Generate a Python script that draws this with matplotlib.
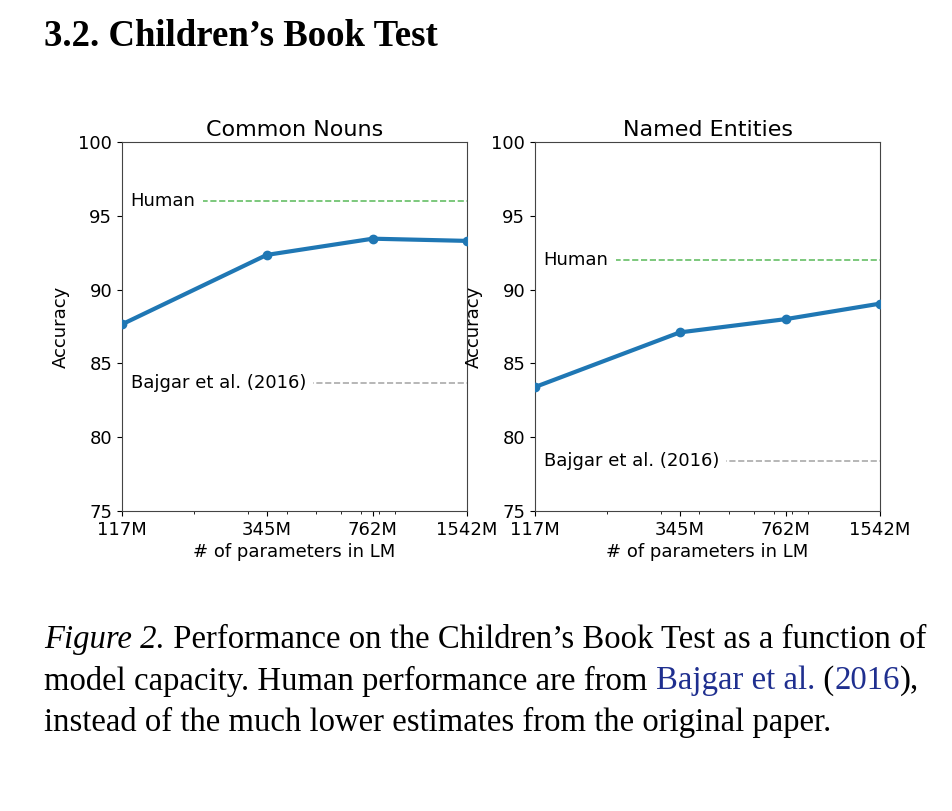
import matplotlib
matplotlib.use('Agg')
import matplotlib.pyplot as plt
from matplotlib.ticker import NullFormatter

# model sizes (millions of parameters)
params = [117, 345, 762, 1542]
param_labels = ['117M', '345M', '762M', '1542M']

# accuracy per model size
cn_acc = [87.65, 92.35, 93.45, 93.3]
ne_acc = [83.4, 87.1, 88.0, 89.05]

# reference lines
cn_human, cn_bajgar = 96.0, 83.7
ne_human, ne_bajgar = 92.0, 78.4

titles = ['Common Nouns', 'Named Entities']

plt.rcParams['font.family'] = 'DejaVu Sans'
plt.rcParams['font.size'] = 13

fig = plt.figure(figsize=(9.52, 8.11), dpi=100)
ax1 = fig.add_axes([0.1282, 0.3699, 0.3624, 0.455])
ax2 = fig.add_axes([0.5620, 0.3699, 0.3624, 0.455])

panels = [(ax1, cn_acc, cn_human, cn_bajgar, titles[0]),
          (ax2, ne_acc, ne_human, ne_bajgar, titles[1])]

for ax, acc, human, bajgar, title in panels:
    ax.plot(params, acc, '-o', color='#1f77b4', lw=3, ms=6, zorder=3)
    ax.axhline(human, ls='--', color='#66bf66', lw=1.2, zorder=1)
    ax.axhline(bajgar, ls='--', color='#aaaaaa', lw=1.2, zorder=1)
    box = dict(boxstyle='square,pad=0.4', fc='white', ec='none')
    ax.text(0.025, human, 'Human', transform=ax.get_yaxis_transform(),
            va='center', ha='left', fontsize=13, bbox=box, zorder=2)
    ax.text(0.025, bajgar, 'Bajgar et al. (2016)', transform=ax.get_yaxis_transform(),
            va='center', ha='left', fontsize=13, bbox=box, zorder=2)
    ax.set_xscale('log')
    ax.set_xlim(params[0], params[-1])
    ax.set_xticks(params)
    ax.set_xticklabels(param_labels)
    ax.xaxis.set_minor_formatter(NullFormatter())
    ax.set_ylim(75, 100)
    ax.set_yticks(range(75, 101, 5))
    ax.set_title(title, fontsize=16, pad=4)
    ax.set_xlabel('# of parameters in LM', fontsize=13, labelpad=3)
    ax.set_ylabel('Accuracy', fontsize=13, labelpad=6)
    for sp in ax.spines.values():
        sp.set_color('#444444')

serif = 'Liberation Serif'
fig.text(44 / 952, 1 - 37 / 811, '3.2. Children\u2019s Book Test', family=serif,
         weight='bold', fontsize=26.5, va='center', ha='left')

# caption, drawn piece by piece so that parts can be coloured
link = '#1f2f8f'
caption = [
    [('Figure 2.', 'black', 'italic'),
     (' Performance on the Children\u2019s Book Test as a function of', 'black', 'normal')],
    [('model capacity. Human performance are from ', 'black', 'normal'),
     ('Bajgar et al.', link, 'normal'), (' (', 'black', 'normal'),
     ('2016', link, 'normal'), ('),', 'black', 'normal')],
    [('instead of the much lower estimates from the original paper.', 'black', 'normal')],
]
line_y = [640, 681, 722]

renderer = fig.canvas.get_renderer()
for pieces, yy in zip(caption, line_y):
    x = 44
    for s, col, style in pieces:
        t = fig.text(x / 952, 1 - yy / 811, s, family=serif, style=style,
                     color=col, fontsize=23.6, va='center', ha='left')
        bb = t.get_window_extent(renderer)
        x += bb.width

fig.savefig('out.png', dpi=100)
